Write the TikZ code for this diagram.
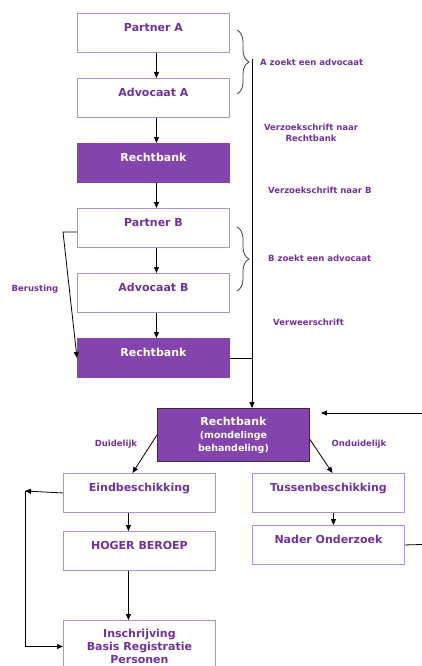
\documentclass[tikz,border=0pt]{standalone}
\usepackage{fontspec}
\setmainfont{DejaVu Sans}
\usetikzlibrary{arrows.meta,decorations.pathreplacing,calc}
\definecolor{paars}{HTML}{7030A0}
\definecolor{paarsvak}{HTML}{8444AE}
\definecolor{paarsrand}{HTML}{B48CDC}

\begin{document}
\begin{tikzpicture}[x=1pt, y=-1pt,
		basis/.style={line width=0.9pt, minimum width=152pt, inner sep=0pt, anchor=north west, font=\fontsize{11}{13}\selectfont\bfseries},
		stap/.style={basis, draw=paarsrand, text=paars, text height=18pt, text depth=21pt},
		rechtbank/.style={basis, fill=paarsvak, draw=paarsvak, text=white, text height=18pt, text depth=21pt},
		zittingvak/.style={basis, fill=paarsvak, draw=black!80, text=white, align=center, minimum height=53pt},
		pijl/.style={-{Triangle[length=6pt,width=5pt]}, line width=0.8pt, black},
		lijn/.style={line width=0.8pt, black},
		tekst/.style={text=paars, font=\fontsize{8.5}{10.5}\selectfont\bfseries, inner sep=0pt},
		accolade/.style={decorate, decoration={brace, amplitude=12pt}, line width=0.8pt, black!75}]
			%%%%% START %%%%%
			\useasboundingbox (0,0) rectangle (422,666);
			
			\node[stap] (partnerA) at (77,13) {Partner A};
			\node[stap] (advocaatA) at (77,78) {Advocaat A};
			\node[rechtbank] (rechtbankA) at (77,143) {Rechtbank};
			\node[stap] (partnerB) at (77,208) {Partner B};
			\node[stap] (advocaatB) at (77,273) {Advocaat B};
			\node[rechtbank] (rechtbankB) at (77,338) {Rechtbank};
			
			\draw[pijl] ([xshift=3pt]partnerA.south) -- ([xshift=3pt]advocaatA.north);
			\draw[pijl] ([xshift=3pt]advocaatA.south) -- ([xshift=3pt]rechtbankA.north);
			\draw[pijl] ([xshift=3pt]rechtbankA.south) -- ([xshift=3pt]partnerB.north);
			\draw[pijl] ([xshift=3pt]partnerB.south) -- ([xshift=3pt]advocaatB.north);
			\draw[pijl] ([xshift=3pt]advocaatB.south) -- ([xshift=3pt]rechtbankB.north);
			
			% accolades en lange lijn
			\draw[accolade] (237,30) -- (237,94);
			\draw[accolade] (237,227) -- (237,291);
			\coordinate (lijnboven) at (252,59);
			
			\node[zittingvak] (zitting) at (157,408) {Rechtbank\\\fontsize{9.5}{12}\selectfont(mondelinge\\\fontsize{9.5}{12}\selectfont behandeling)};
			\draw[pijl] (lijnboven) -- (lijnboven |- zitting.north);
			\draw[lijn] (rechtbankB.east) -- (lijnboven |- rechtbankB.east);
			
			\node[tekst, anchor=west] (zoektA) at (260,62) {A zoekt een advocaat};
			\node[tekst, align=center] (verzoekR) at (311,133) {Verzoekschrift naar\\Rechtbank};
			\node[tekst, anchor=west] (verzoekB) at (268,190) {Verzoekschrift naar B};
			\node[tekst, anchor=west] (zoektB) at (268,258) {B zoekt een advocaat};
			\node[tekst, anchor=west] (verweer) at (273,322) {Verweerschrift};
			
			\node[tekst] (berusting) at (35,289) {Berusting};
			\draw[pijl] ([yshift=-4pt]partnerB.west) -- ++(-14,0) -- (rechtbankB.west);
			
			\coordinate (terug) at (422,413);
			\draw[pijl] (terug) -- ($(zitting.north east)+(11,5)$);
			
			\node[stap] (eind) at (63,473) {Eindbeschikking};
			\node[stap] (tussen) at (252,473) {Tussenbeschikking};
			\node[stap] (hoger) at (63,531) {HOGER BEROEP};
			\node[stap] (nader) at (252,525) {Nader Onderzoek};
			\node[basis, draw=paarsrand, text=paars, align=center, minimum height=52pt, font=\fontsize{11}{13}\selectfont\bfseries] (inschrijving) at (63,620) {Inschrijving\\Basis Registratie\\Personen};
			
			\node[tekst] (duidelijk) at (116,444) {Duidelijk};
			\node[tekst] (onduidelijk) at (359,444) {Onduidelijk};
			\draw[pijl] (zitting.west) -- ([xshift=-7pt]eind.north);
			\draw[pijl] ([yshift=-4.5pt]zitting.east) -- ([xshift=4pt]tussen.north);
			
			\draw[pijl] ([xshift=-11pt]eind.south) -- ([xshift=-11pt]hoger.north);
			\draw[pijl] ([xshift=-11pt]hoger.south) -- ([xshift=-11pt]inschrijving.north);
			\draw[pijl] ([xshift=5pt]tussen.south) -- ([xshift=5pt]nader.north);
			
			\coordinate (hoek) at (25,491);
			\draw[pijl] (eind.west) -- (hoek);
			\draw[pijl] (hoek) -- (hoek |- inschrijving.west) -- (inschrijving.west);
			
			\coordinate (rechts) at (422,544.5);
			\draw[lijn] (nader.east) -- (rechts);
			%%%%% END %%%%%
\end{tikzpicture}
\end{document}
